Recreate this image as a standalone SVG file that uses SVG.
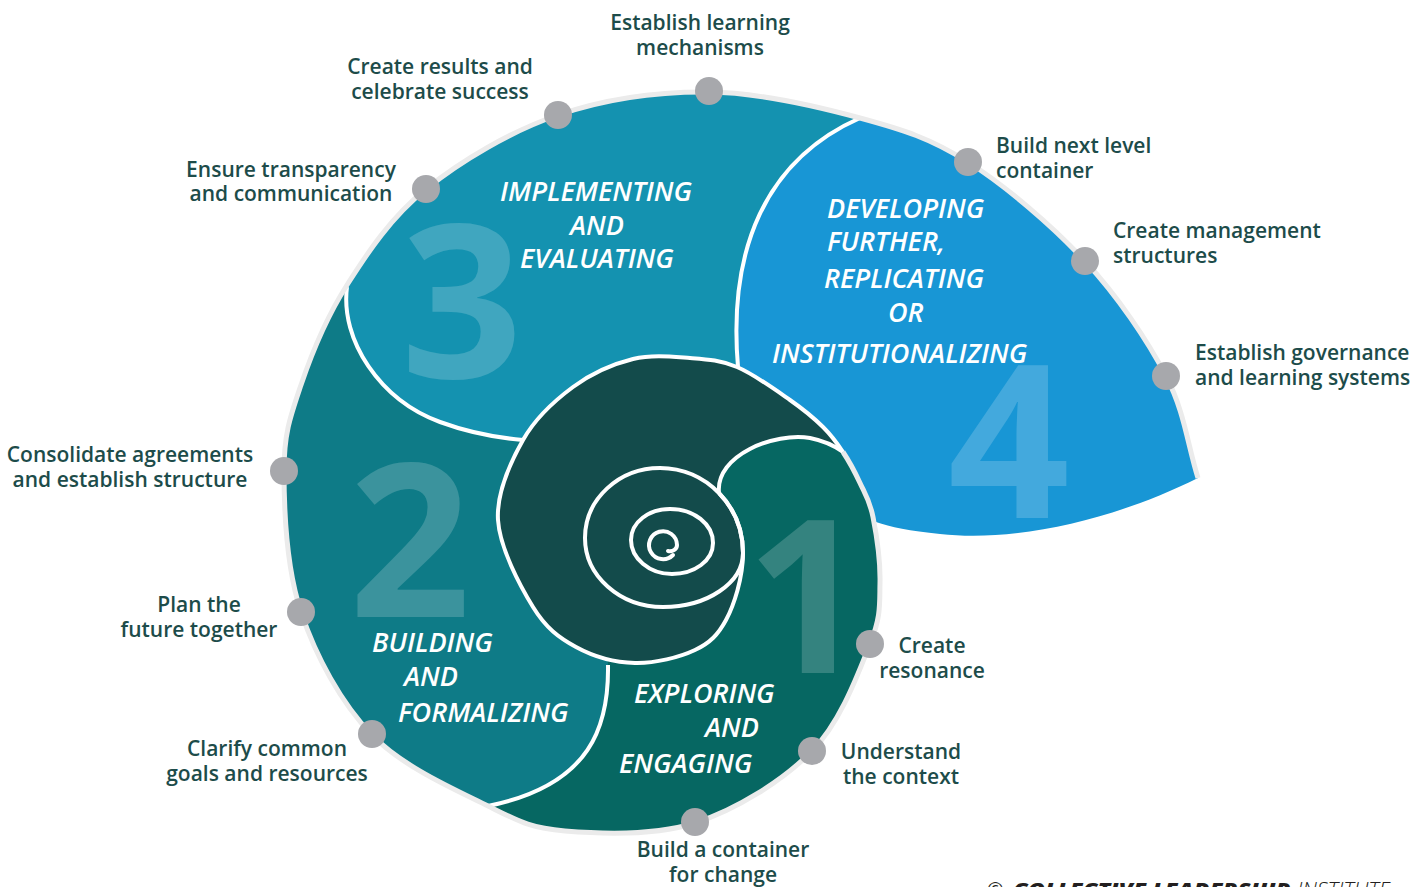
<svg xmlns="http://www.w3.org/2000/svg" width="1425" height="887" viewBox="0 0 1425 887">
<style>
.lbl{font-family:"Open Sans","Liberation Sans",sans-serif;font-size:21px;font-weight:600;fill:#1d4c4a;text-anchor:middle}
.lbl.l{text-anchor:start}
.ttl{font-family:"Open Sans","Liberation Sans",sans-serif;font-size:27px;font-style:italic;font-weight:600;fill:#ffffff}
.num{font-family:"Open Sans","Liberation Sans",sans-serif;font-size:213px;font-weight:700;fill:#ffffff;fill-opacity:0.19;text-anchor:middle}
.dot{fill:#a7a8ac}
.sep{fill:none;stroke:#ffffff;stroke-width:4}
.rim{fill:none;stroke:#ebebeb;stroke-width:5}
.inner{fill:none;stroke:#ffffff;stroke-width:4;stroke-linecap:round}
.copy{font-family:"Open Sans","Liberation Sans",sans-serif;font-size:20px;fill:#231f20}
</style>
<rect width="1425" height="887" fill="#ffffff"/>

<g id="stage1">
<path fill="#066762" d="M 843 452 C 849.2 461.3 855 472.2 860 483 C 865 493.8 869.7 500.3 873 517 C 876.3 533.7 880.5 561.8 880 583 C 879.5 604.2 881.3 616 870 644 C 858.7 672 841.2 721.2 812 751 C 782.8 780.8 736.2 809.7 695 823 C 653.8 836.3 599.5 833.8 565 831 C 530.5 828.2 520.2 822 488 806 L 540 700 L 600 500 L 719 493 C 715 455 775 432 810 438 C 825 441 835 446 843 452 Z"/>
<text class="num" x="807" y="673">1</text>
<text class="ttl" x="634" y="703">EXPLORING</text>
<text class="ttl" x="705" y="737">AND</text>
<text class="ttl" x="619" y="773">ENGAGING</text>
</g>

<g id="stage2">
<path fill="#0e7b87" d="M 488 806 C 455.8 790 403.2 767.3 372 735 C 340.8 702.7 315.7 656 301 612 C 286.3 568 284 508.8 284 471 C 284 433.2 290.5 416 301 385 C 311.5 354 326.2 317.7 347 285 L 430 330 L 560 420 L 600 560 L 608 665 C 609 725 592 785 488 806 Z"/>
<text class="num" x="410" y="617">2</text>
<text class="ttl" x="372" y="652">BUILDING</text>
<text class="ttl" x="404" y="686">AND</text>
<text class="ttl" x="398" y="722">FORMALIZING</text>
</g>

<g id="stage3">
<path fill="#1492b0" d="M 347 285 C 367.8 252.3 390.8 217.3 426 189 C 461.2 160.7 510.8 131.2 558 115 C 605.2 98.8 658.7 91.5 709 92 C 759.3 92.5 816.8 106.3 860 118 C 765 160 728 250 738 367 L 720 385 L 600 430 L 523 440 C 500 438 470 433 440 422 C 380 400 340 340 347 287 Z"/>
<text class="num" x="462" y="378">3</text>
<text class="ttl" x="500" y="201">IMPLEMENTING</text>
<text class="ttl" x="570" y="235">AND</text>
<text class="ttl" x="520" y="268">EVALUATING</text>
</g>

<g id="stage4">
<path fill="#1896d5" d="M 860 118 C 903.2 129.7 930.5 138.2 968 162 C 1005.5 185.8 1052 225.3 1085 261 C 1118 296.7 1147.2 339.8 1166 376 C 1184.8 412.2 1187.3 444 1198 478 C 1120 517 1020 543 940 534 C 910 531 890 527 876 522 L 873 517 C 869.7 500.3 865 493.8 860 483 C 855 472.2 849.2 461.3 843 452 L 820 432 L 760 410 L 720 380 L 738 367 C 728 250 765 160 860 118 Z"/>
<text class="num" x="1009" y="518">4</text>
<text class="ttl" x="827" y="218">DEVELOPING</text>
<text class="ttl" x="827" y="251">FURTHER,</text>
<text class="ttl" x="824" y="288">REPLICATING</text>
<text class="ttl" x="888" y="322">OR</text>
<text class="ttl" x="772" y="363">INSTITUTIONALIZING</text>
</g>

<g id="core">
<path fill="#134b4b" d="M 843 452 C 836.8 442.7 831.8 435.7 823 427 C 814.2 418.3 804.3 410 790 400 C 775.7 390 753.7 374 737 367 C 720.3 360 707.3 359.3 690 358 C 672.7 356.7 652.5 354.2 633 359 C 613.5 363.8 591.3 373.5 573 387 C 554.7 400.5 535.5 417.8 523 440 C 510.5 462.2 496.3 492.2 498 520 C 499.7 547.8 520 585.8 533 607 C 546 628.2 559 637.7 576 647 C 593 656.3 615.2 662.5 635 663 C 654.8 663.5 679.8 657.2 695 650 C 710.2 642.8 718.2 634.5 726 620 C 733.8 605.5 743 578 743 553 C 743 529.5 733.8 508.3 719 493 C 715 455 775 432 810 438 C 825 441 835 446 843 452 Z"/>
</g>

<g id="connectors">
<path class="sep" d="M 719 493 C 715 455 775 432 810 438 C 825 441 835 446 843 452"/>
<path class="sep" d="M 608 665 C 609 725 592 785 488 806"/>
<path class="sep" d="M 523 440 C 500 438 470 433 440 422 C 380 400 340 340 347 287"/>
<path class="sep" d="M 860 118 C 765 160 728 250 738 367"/>
<path class="sep" stroke="#f2f2f2" d="M 843 452 C 836.8 442.7 831.8 435.7 823 427 C 814.2 418.3 804.3 410 790 400 C 775.7 390 753.7 374 737 367 C 720.3 360 707.3 359.3 690 358 C 672.7 356.7 652.5 354.2 633 359 C 613.5 363.8 591.3 373.5 573 387 C 554.7 400.5 535.5 417.8 523 440 C 510.5 462.2 496.3 492.2 498 520 C 499.7 547.8 520 585.8 533 607 C 546 628.2 559 637.7 576 647 C 593 656.3 615.2 662.5 635 663 C 654.8 663.5 679.8 657.2 695 650 C 710.2 642.8 718.2 634.5 726 620 C 733.8 605.5 743 578 743 553 C 743 529.5 733.8 508.3 719 493"/>
<path class="rim" d="M 843 452 C 849.2 461.3 855 472.2 860 483 C 865 493.8 869.7 500.3 873 517 C 876.3 533.7 880.5 561.8 880 583 C 879.5 604.2 881.3 616 870 644 C 858.7 672 841.2 721.2 812 751 C 782.8 780.8 736.2 809.7 695 823 C 653.8 836.3 599.5 833.8 565 831 C 530.5 828.2 520.2 822 488 806 C 455.8 790 403.2 767.3 372 735 C 340.8 702.7 315.7 656 301 612 C 286.3 568 284 508.8 284 471 C 284 433.2 290.5 416 301 385 C 311.5 354 326.2 317.7 347 285 C 367.8 252.3 390.8 217.3 426 189 C 461.2 160.7 510.8 131.2 558 115 C 605.2 98.8 658.7 91.5 709 92 C 759.3 92.5 816.8 106.3 860 118 C 903.2 129.7 930.5 138.2 968 162 C 1005.5 185.8 1052 225.3 1085 261 C 1118 296.7 1147.2 339.8 1166 376 C 1184.8 412.2 1187.3 444 1198 478"/>
<path class="inner" d="M 585 538 C 585 499 619 468 660 468 C 706 468 743 506 743 553 C 743 583 707 607 663 607 C 620 607 585 576 585 538 Z"/>
<path class="inner" d="M 631 540 C 631 522 649 509 670 509 C 694 509 713 524 713 543 C 713 561 694 574 672 574 C 649 574 631 558 631 540 Z"/>
<path class="inner" d="M 668 551 C 673 552 677 549 677 545 A 14 14 0 1 0 673 555"/>
</g>

<g id="step-establish-learning"><circle class="dot" cx="709" cy="91" r="14"/><text class="lbl" x="700" y="30">Establish learning</text><text class="lbl" x="700" y="55">mechanisms</text></g>
<g id="step-create-results"><circle class="dot" cx="558" cy="115" r="14"/><text class="lbl" x="440" y="74">Create results and</text><text class="lbl" x="440" y="99">celebrate success</text></g>
<g id="step-transparency"><circle class="dot" cx="426" cy="189" r="14"/><text class="lbl" x="291" y="177">Ensure transparency</text><text class="lbl" x="291" y="201">and communication</text></g>
<g id="step-consolidate"><circle class="dot" cx="284" cy="471" r="14"/><text class="lbl" x="130" y="462">Consolidate agreements</text><text class="lbl" x="130" y="487">and establish structure</text></g>
<g id="step-plan"><circle class="dot" cx="301" cy="612" r="14"/><text class="lbl" x="199" y="612">Plan the</text><text class="lbl" x="199" y="637">future together</text></g>
<g id="step-clarify"><circle class="dot" cx="372" cy="734" r="14"/><text class="lbl" x="267" y="756">Clarify common</text><text class="lbl" x="267" y="781">goals and resources</text></g>
<g id="step-container"><circle class="dot" cx="695" cy="822" r="14"/><text class="lbl" x="723" y="857">Build a container</text><text class="lbl" x="723" y="882">for change</text></g>
<g id="step-understand"><circle class="dot" cx="812" cy="751" r="14"/><text class="lbl" x="901" y="759">Understand</text><text class="lbl" x="901" y="784">the context</text></g>
<g id="step-resonance"><circle class="dot" cx="870" cy="644" r="14"/><text class="lbl" x="932" y="653">Create</text><text class="lbl" x="932" y="678">resonance</text></g>
<g id="step-next-level"><circle class="dot" cx="968" cy="162" r="14"/><text class="lbl l" x="996" y="153">Build next level</text><text class="lbl l" x="996" y="178">container</text></g>
<g id="step-management"><circle class="dot" cx="1085" cy="261" r="14"/><text class="lbl l" x="1113" y="238">Create management</text><text class="lbl l" x="1113" y="263">structures</text></g>
<g id="step-governance"><circle class="dot" cx="1166" cy="376" r="14"/><text class="lbl l" x="1195" y="360">Establish governance</text><text class="lbl l" x="1195" y="385">and learning systems</text></g>

<g id="copyright">
<text class="copy" x="987" y="897">©</text>
<text class="copy" x="1013" y="897" font-style="italic" font-weight="800" textLength="277" lengthAdjust="spacingAndGlyphs">COLLECTIVE LEADERSHIP</text>
<text class="copy" x="1297" y="897" font-style="italic" font-weight="300" textLength="93" lengthAdjust="spacingAndGlyphs">INSTITUTE</text>
</g>
</svg>
